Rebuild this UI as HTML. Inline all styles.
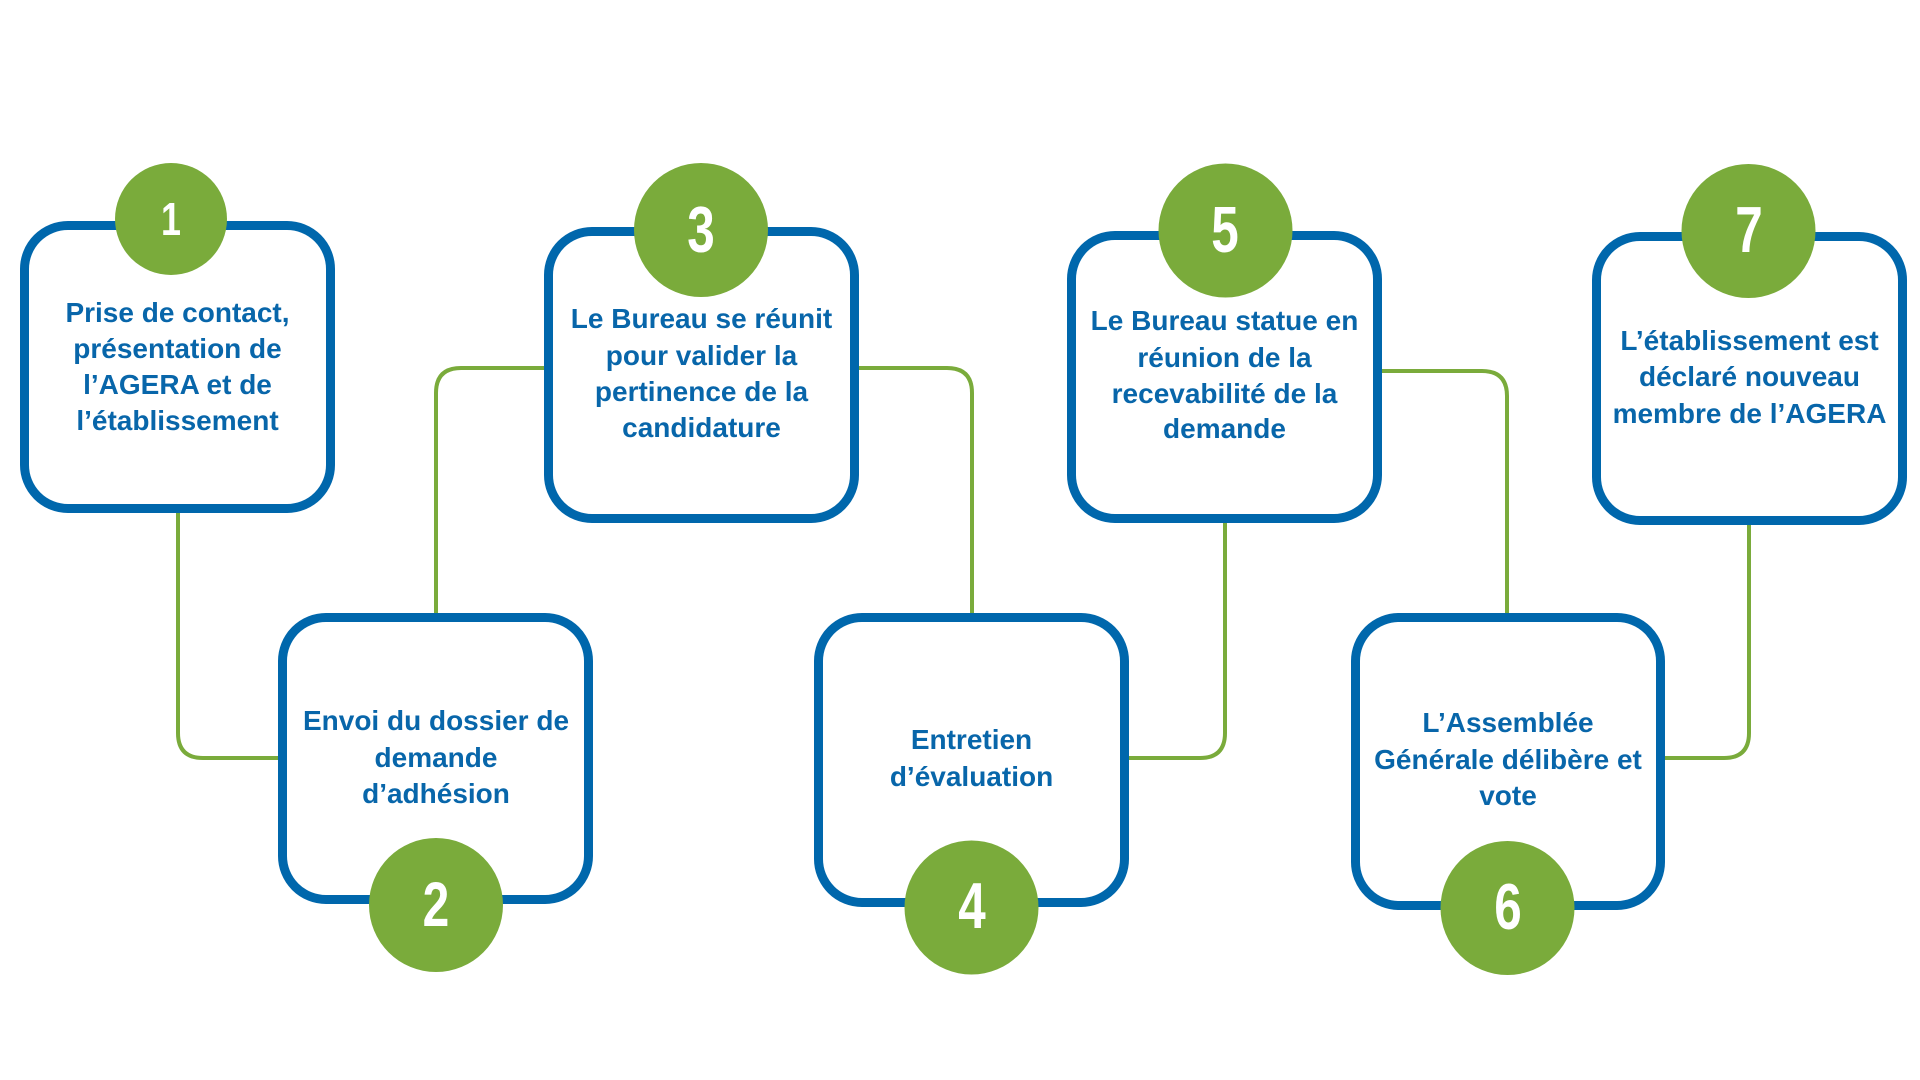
<!DOCTYPE html>
<html>
<head>
<meta charset="utf-8">
<style>
  html, body { margin: 0; padding: 0; background: #ffffff; }
  body { width: 1920px; height: 1080px; overflow: hidden; }
  svg { display: block; }
  .t { font-family: "Liberation Sans", Arial, sans-serif; font-weight: bold; font-size: 28px; fill: #0866aa; text-anchor: middle; }
  .n { font-family: "Liberation Sans", Arial, sans-serif; font-weight: bold; fill: #ffffff; text-anchor: middle; }
</style>
</head>
<body>
<svg width="1920" height="1080" viewBox="0 0 1920 1080" xmlns="http://www.w3.org/2000/svg">
  <rect x="0" y="0" width="1920" height="1080" fill="#ffffff"/>
  <!-- connectors -->
  <g fill="none" stroke="#7aab3b" stroke-width="4">
    <path d="M178 513 V733 Q178 758 203 758 H280"/>
    <path d="M436 613 V393 Q436 368 461 368 H546"/>
    <path d="M857 368 H947 Q972 368 972 393 V615"/>
    <path d="M1127 758 H1200 Q1225 758 1225 733 V521"/>
    <path d="M1380 371 H1482 Q1507 371 1507 396 V615"/>
    <path d="M1663 758 H1724 Q1749 758 1749 733 V523"/>
  </g>
  <!-- boxes -->
  <g fill="#ffffff" stroke="#0067ac" stroke-width="9">
    <rect x="24.5" y="225.5" width="306" height="283" rx="43.5" ry="43.5"/>
    <rect x="282.5" y="617.5" width="306" height="282" rx="43.5" ry="43.5"/>
    <rect x="548.5" y="231.5" width="306" height="287" rx="43.5" ry="43.5"/>
    <rect x="818.5" y="617.5" width="306" height="285" rx="43.5" ry="43.5"/>
    <rect x="1071.5" y="235.5" width="306" height="283" rx="43.5" ry="43.5"/>
    <rect x="1355.5" y="617.5" width="305" height="288" rx="43.5" ry="43.5"/>
    <rect x="1596.5" y="236.5" width="306" height="284" rx="43.5" ry="43.5"/>
  </g>
  <!-- circles -->
  <g fill="#7aab3b">
    <circle cx="171" cy="219" r="56"/>
    <circle cx="436" cy="905" r="67"/>
    <circle cx="701" cy="230" r="67"/>
    <circle cx="971.5" cy="907.5" r="67"/>
    <circle cx="1225.5" cy="230.5" r="67"/>
    <circle cx="1507.5" cy="908" r="67"/>
    <circle cx="1748.5" cy="231" r="67"/>
  </g>
  <!-- numbers -->
  <text class="n" font-size="46" transform="translate(171 235) scale(0.78 1)" x="0" y="0">1</text>
  <text class="n" font-size="63" transform="translate(436 926) scale(0.76 1)" x="0" y="0">2</text>
  <text class="n" font-size="65" transform="translate(701 252) scale(0.76 1)" x="0" y="0">3</text>
  <text class="n" font-size="65" transform="translate(972 928) scale(0.76 1)" x="0" y="0">4</text>
  <text class="n" font-size="65" transform="translate(1225 252) scale(0.76 1)" x="0" y="0">5</text>
  <text class="n" font-size="65" transform="translate(1508 929) scale(0.76 1)" x="0" y="0">6</text>
  <text class="n" font-size="65" transform="translate(1749 252) scale(0.76 1)" x="0" y="0">7</text>
  <!-- labels -->
  <text class="t" x="177.5" y="322">Prise de contact,</text>
  <text class="t" x="177.5" y="358">présentation de</text>
  <text class="t" x="177.5" y="394">l’AGERA et de</text>
  <text class="t" x="177.5" y="430">l’établissement</text>

  <text class="t" x="436" y="730">Envoi du dossier de</text>
  <text class="t" x="436" y="767">demande</text>
  <text class="t" x="436" y="803">d’adhésion</text>

  <text class="t" x="701.5" y="328">Le Bureau se réunit</text>
  <text class="t" x="701.5" y="365">pour valider la</text>
  <text class="t" x="701.5" y="401">pertinence de la</text>
  <text class="t" x="701.5" y="437">candidature</text>

  <text class="t" x="971.5" y="749">Entretien</text>
  <text class="t" x="971.5" y="786">d’évaluation</text>

  <text class="t" x="1224.5" y="330">Le Bureau statue en</text>
  <text class="t" x="1224.5" y="367">réunion de la</text>
  <text class="t" x="1224.5" y="403">recevabilité de la</text>
  <text class="t" x="1224.5" y="438">demande</text>

  <text class="t" x="1508" y="732">L’Assemblée</text>
  <text class="t" x="1508" y="769">Générale délibère et</text>
  <text class="t" x="1508" y="805">vote</text>

  <text class="t" x="1749.5" y="350">L’établissement est</text>
  <text class="t" x="1749.5" y="386">déclaré nouveau</text>
  <text class="t" x="1749.5" y="423">membre de l’AGERA</text>
</svg>
</body>
</html>
